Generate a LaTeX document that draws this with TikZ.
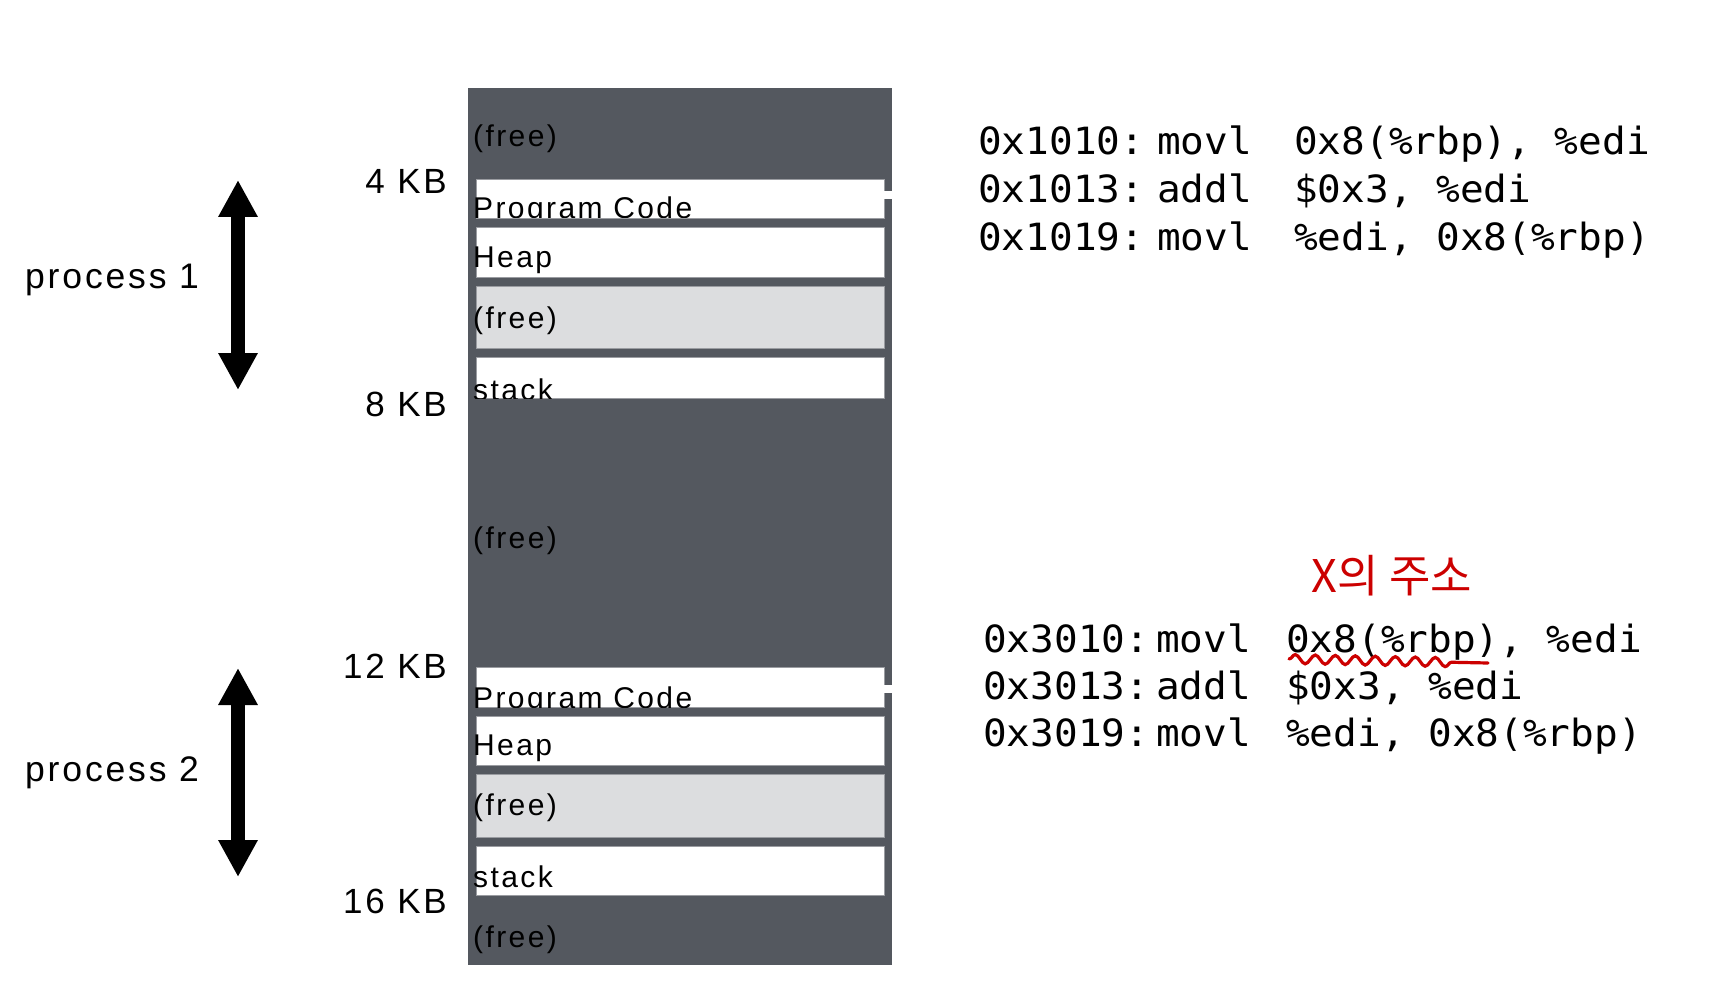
\documentclass[tikz,border=0pt]{standalone}
\usepackage{fontspec}
\setmainfont{Liberation Sans}[LetterSpace=8]
\newfontfamily\codefont{DejaVu Sans Mono}[FakeStretch=1.05]
\newfontfamily\krfont{Noto Sans CJK KR}
\usetikzlibrary{arrows.meta,decorations.pathmorphing}
\definecolor{memdark}{HTML}{54585F}
\definecolor{memlight}{HTML}{DCDDDF}
\definecolor{memedge}{HTML}{9A9CA1}
\definecolor{hand}{HTML}{CC0000}
\begin{document}
\begin{tikzpicture}[x=1pt,y=-1pt,
  boxtext/.style={anchor=base west,inner sep=0pt,font=\fontsize{30}{32}\selectfont},
  kblabel/.style={anchor=base east,inner sep=0pt,font=\fontsize{35}{37}\selectfont},
  proclabel/.style={anchor=base west,inner sep=0pt,font=\fontsize{35.5}{37}\selectfont},
  code/.style={anchor=base west,inner sep=0pt,font=\codefont\fontsize{37.5}{40}\selectfont},
  whitebox/.style={fill=white,draw=memedge,line width=0.8pt},
  freebox/.style={fill=memlight,draw=memedge,line width=0.8pt},
  bigarrow/.style={line width=14pt,{Triangle[width=37pt,length=37pt]}-{Triangle[width=37pt,length=37pt]}},
  wavy/.style={hand,line width=3.2pt,line cap=round,decorate,
    decoration={snake,amplitude=4.5pt,segment length=20pt,post=lineto,post length=28pt}}
]
\useasboundingbox (0,0) rectangle (1718,1000);
\fill[white] (0,0) rectangle (1718,1000);

% memory column
\fill[memdark] (468,88) rectangle (892,965);

% ---- process 1 region
\fill[whitebox] (476,179) rectangle (884,218);
\fill[white] (884,191) rectangle (892,199);
\fill[whitebox] (476,227) rectangle (884,277);
\fill[freebox] (476,286) rectangle (884,348);
\fill[whitebox] (476,357) rectangle (884,398);

% ---- process 2 region
\fill[whitebox] (476,667) rectangle (884,707);
\fill[white] (884,685) rectangle (892,693);
\fill[whitebox] (476,716) rectangle (884,765);
\fill[freebox] (476,774) rectangle (884,837);
\fill[whitebox] (476,846) rectangle (884,895);

% box texts
\node[boxtext] (free0) at (473,147) {(free)};
\begin{scope}
  \clip (466,179) rectangle (884,218);
  \node[boxtext] (code1) at (473,219) {Program Code};
\end{scope}
\node[boxtext] (heap1) at (473,268) {Heap};
\node[boxtext] (free1) at (473,328) {(free)};
\begin{scope}
  \clip (466,357) rectangle (884,398);
  \node[boxtext] (stack1) at (473,400) {stack};
\end{scope}
\node[boxtext] (freemid) at (473,548) {(free)};
\begin{scope}
  \clip (466,667) rectangle (884,707);
  \node[boxtext] (code2) at (473,708) {Program Code};
\end{scope}
\node[boxtext] (heap2) at (473,755) {Heap};
\node[boxtext] (free2) at (473,815) {(free)};
\node[boxtext] (stack2) at (473,887) {stack};
\node[boxtext] (freeend) at (473,947) {(free)};

% address labels
\node[kblabel] (kb4) at (447,194) {4 KB};
\node[kblabel] (kb8) at (447,416) {8 KB};
\node[kblabel] (kb12) at (447,678) {12 KB};
\node[kblabel] (kb16) at (447,913) {16 KB};

% process labels and arrows
\node[proclabel] (proc1) at (25,289) {process 1};
\node[proclabel] (proc2) at (25,781) {process 2};
\coordinate (a1t) at (238,180);
\coordinate (a1b) at (238,390);
\coordinate (a2t) at (238,668);
\coordinate (a2b) at (238,877);
\draw[bigarrow] (a1t) -- (a1b);
\draw[bigarrow] (a2t) -- (a2b);

% code block 1
\node[code] (c1a) at (978,155) {0x1010:};
\node[code] (c1m) at (1157,155) {movl};
\node[code] (c1o) at (1294,155) {0x8(\%rbp), \%edi};
\node[code] (c2a) at (978,203) {0x1013:};
\node[code] (c2m) at (1157,203) {addl};
\node[code] (c2o) at (1294,203) {\$0x3, \%edi};
\node[code] (c3a) at (978,251) {0x1019:};
\node[code] (c3m) at (1157,251) {movl};
\node[code] (c3o) at (1294,251) {\%edi, 0x8(\%rbp)};

% code block 2
\node[code] (d1a) at (983,652) {0x3010:};
\node[code] (d1m) at (1156,652) {movl};
\node[code] (d1o) at (1286,652) {0x8(\%rbp), \%edi};
\node[code] (d2a) at (983,699) {0x3013:};
\node[code] (d2m) at (1156,699) {addl};
\node[code] (d2o) at (1286,699) {\$0x3, \%edi};
\node[code] (d3a) at (983,746) {0x3019:};
\node[code] (d3m) at (1156,746) {movl};
\node[code] (d3o) at (1286,746) {\%edi, 0x8(\%rbp)};

% handwritten annotation
\node[text=hand,inner sep=0pt,font=\krfont\fontsize{45}{47}\selectfont] (note) at (1392,576) {X의 주소};
\coordinate (w1) at (1289,659);
\coordinate (w2) at (1488,663);
\draw[wavy] (w1) -- (w2);
\end{tikzpicture}
\end{document}
